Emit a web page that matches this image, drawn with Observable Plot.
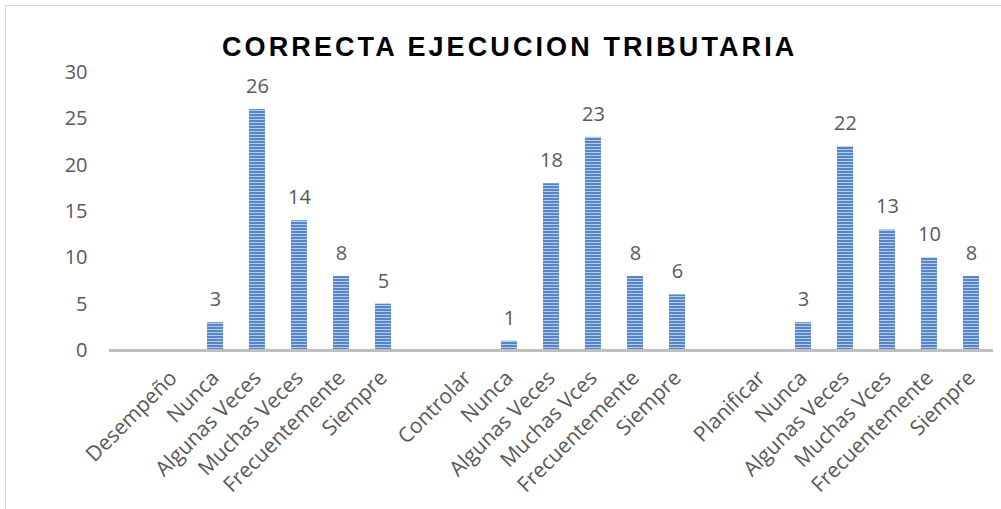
<!DOCTYPE html>
<html>
<head>
<meta charset="utf-8">
<script src="https://cdn.jsdelivr.net/npm/d3@7"></script>
<script src="https://cdn.jsdelivr.net/npm/@observablehq/plot@0.6"></script>
<style>
  html, body { margin: 0; padding: 0; background: #ffffff; }
  #wrap { position: relative; width: 1001px; height: 509px; overflow: hidden; background: #fff; }
  #frame { position: absolute; left: 5px; top: 5px; width: 1010px; height: 520px; border: 1px solid #d9d9d9; box-sizing: border-box; }
  #title { position: relative; height: 60px; box-sizing: border-box; padding-top: 34px; padding-left: 222px;
           font-family: "Liberation Sans", Arial, sans-serif; font-weight: bold; font-size: 27px; line-height: 27px;
           letter-spacing: 3.1px; white-space: nowrap; color: #000; }
  #chart { position: relative; }
</style>
</head>
<body>
<div id="wrap">
  <div id="frame"></div>
  <div id="title">CORRECTA EJECUCION TRIBUTARIA</div>
  <div id="chart"></div>
</div>
<script>
// ---- data ----
const groupNames = ["Desempeño", "Controlar", "Planificar"];
const labelsDesempeno = ["Nunca", "Algunas Veces", "Muchas Veces", "Frecuentemente", "Siempre"];
const labelsControlar = ["Nunca", "Algunas Veces", "Muchas Vces", "Frecuentemente", "Siempre"];
const labelsPlanificar = ["Nunca", "Algunas Veces", "Muchas Vces", "Frecuentemente", "Siempre"];
const valuesDesempeno = [3, 26, 14, 8, 5];
const valuesControlar = [1, 18, 23, 8, 6];
const valuesPlanificar = [3, 22, 13, 10, 8];
const yTicks = [0, 5, 10, 15, 20, 25, 30];

// ---- build band domain and rows ----
const groupLabels = [labelsDesempeno, labelsControlar, labelsPlanificar];
const groupValues = [valuesDesempeno, valuesControlar, valuesPlanificar];
const domain = [];
const labelOf = new Map();
const rows = [];
groupNames.forEach((g, gi) => {
  const blank = `g${gi}-blank`;
  domain.push(blank); labelOf.set(blank, "");
  const head = `g${gi}-head`;
  domain.push(head); labelOf.set(head, g);
  groupLabels[gi].forEach((lab, i) => {
    const key = `g${gi}-r${i}`;
    domain.push(key); labelOf.set(key, lab);
    rows.push({key, label: lab, value: groupValues[gi][i]});
  });
});

const chart = Plot.plot({
  width: 1001,
  height: 449,
  marginTop: 12,
  marginBottom: 159,
  marginLeft: 109,
  marginRight: 8,
  style: {fontFamily: "'Open Sans', sans-serif", fontSize: "20px", color: "#595959", background: "transparent", overflow: "visible"},
  x: {type: "band", domain, paddingInner: 0.61, paddingOuter: 0.305, align: 0.5, axis: null, label: null},
  y: {domain: [0, 30], axis: null, label: null},
  marks: [
    Plot.barY(rows, {x: "key", y: "value", fill: "url(#hstripes)"}),
    Plot.ruleY([0], {stroke: "#bfbfbf", strokeWidth: 3}),
    Plot.text(rows, {x: "key", y: "value", text: d => String(d.value), dy: -23, fill: "#595959", fontSize: 20}),
    Plot.axisY({ticks: yTicks, tickSize: 0, tickPadding: 22, fontSize: 20, fill: "#595959", label: null}),
    Plot.axisX({tickSize: 0, tickRotate: -45, tickPadding: 24, dx: 0, fontSize: 21, fill: "#595959", label: null,
                tickFormat: k => labelOf.get(k)})
  ]
});

// striped fill pattern
const ns = "http://www.w3.org/2000/svg";
const defs = document.createElementNS(ns, "defs");
defs.innerHTML = `<pattern id="hstripes" patternUnits="userSpaceOnUse" width="6" height="3">
  <rect x="0" y="0" width="6" height="3" fill="#b7cbe9"></rect>
  <rect x="0" y="0" width="6" height="2" fill="#5486c8"></rect>
</pattern>`;
chart.insertBefore(defs, chart.firstChild);
document.getElementById("chart").appendChild(chart);
</script>
</body>
</html>
